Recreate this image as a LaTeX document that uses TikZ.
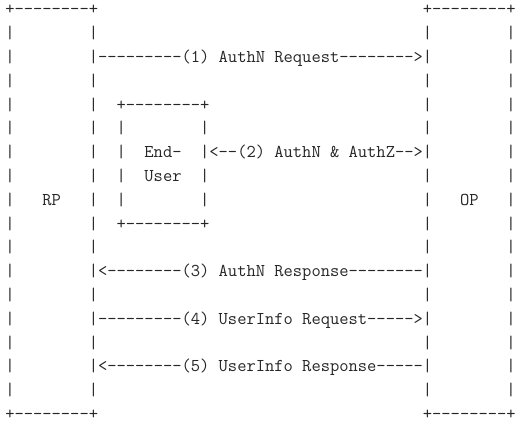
\documentclass[tikz,border=0pt]{standalone}
\usepackage{fontspec}
\ExplSyntaxOn
\NewDocumentCommand\spc{m}{\prg_replicate:nn{#1}{\nobreakspace}}
\ExplSyntaxOff
\tikzset{
  row/.style={anchor=base west, inner sep=0pt, outer sep=0pt,
    font=\ttfamily\fontsize{18.02pt}{23.8pt}\selectfont, text=black!85}
}
\begin{document}
\begin{tikzpicture}[x=1pt,y=1pt]
\fill[white] (0,0) rectangle (526,-421);
\useasboundingbox (0,0) rectangle (526,-421);
\def\rx{5.27}
\node[row] (r0)  at (\rx,-14.9)  {+--------+\spc{35}+--------+};
\node[row] (r1)  at (\rx,-38.7)  {|\spc{8}|\spc{35}|\spc{8}|};
\node[row] (r2)  at (\rx,-62.5)  {|\spc{8}|---------(1)\spc{1}AuthN\spc{1}Request-------->|\spc{8}|};
\node[row] (r3)  at (\rx,-86.3)  {|\spc{8}|\spc{35}|\spc{8}|};
\node[row] (r4)  at (\rx,-110.1) {|\spc{8}|\spc{2}+--------+\spc{23}|\spc{8}|};
\node[row] (r5)  at (\rx,-133.9) {|\spc{8}|\spc{2}|\spc{8}|\spc{23}|\spc{8}|};
\node[row] (r6)  at (\rx,-157.7) {|\spc{8}|\spc{2}|\spc{2}End-\spc{2}|<--(2)\spc{1}AuthN\spc{1}\&\spc{1}AuthZ-->|\spc{8}|};
\node[row] (r7)  at (\rx,-181.5) {|\spc{8}|\spc{2}|\spc{2}User\spc{2}|\spc{23}|\spc{8}|};
\node[row] (r8)  at (\rx,-205.3) {|\spc{3}RP\spc{3}|\spc{2}|\spc{8}|\spc{23}|\spc{3}OP\spc{3}|};
\node[row] (r9)  at (\rx,-229.1) {|\spc{8}|\spc{2}+--------+\spc{23}|\spc{8}|};
\node[row] (r10) at (\rx,-252.9) {|\spc{8}|\spc{35}|\spc{8}|};
\node[row] (r11) at (\rx,-276.7) {|\spc{8}|<--------(3)\spc{1}AuthN\spc{1}Response--------|\spc{8}|};
\node[row] (r12) at (\rx,-300.5) {|\spc{8}|\spc{35}|\spc{8}|};
\node[row] (r13) at (\rx,-324.3) {|\spc{8}|---------(4)\spc{1}UserInfo\spc{1}Request----->|\spc{8}|};
\node[row] (r14) at (\rx,-348.1) {|\spc{8}|\spc{35}|\spc{8}|};
\node[row] (r15) at (\rx,-371.9) {|\spc{8}|<--------(5)\spc{1}UserInfo\spc{1}Response-----|\spc{8}|};
\node[row] (r16) at (\rx,-395.7) {|\spc{8}|\spc{35}|\spc{8}|};
\node[row] (r17) at (\rx,-419.5) {+--------+\spc{35}+--------+};
\end{tikzpicture}
\end{document}
